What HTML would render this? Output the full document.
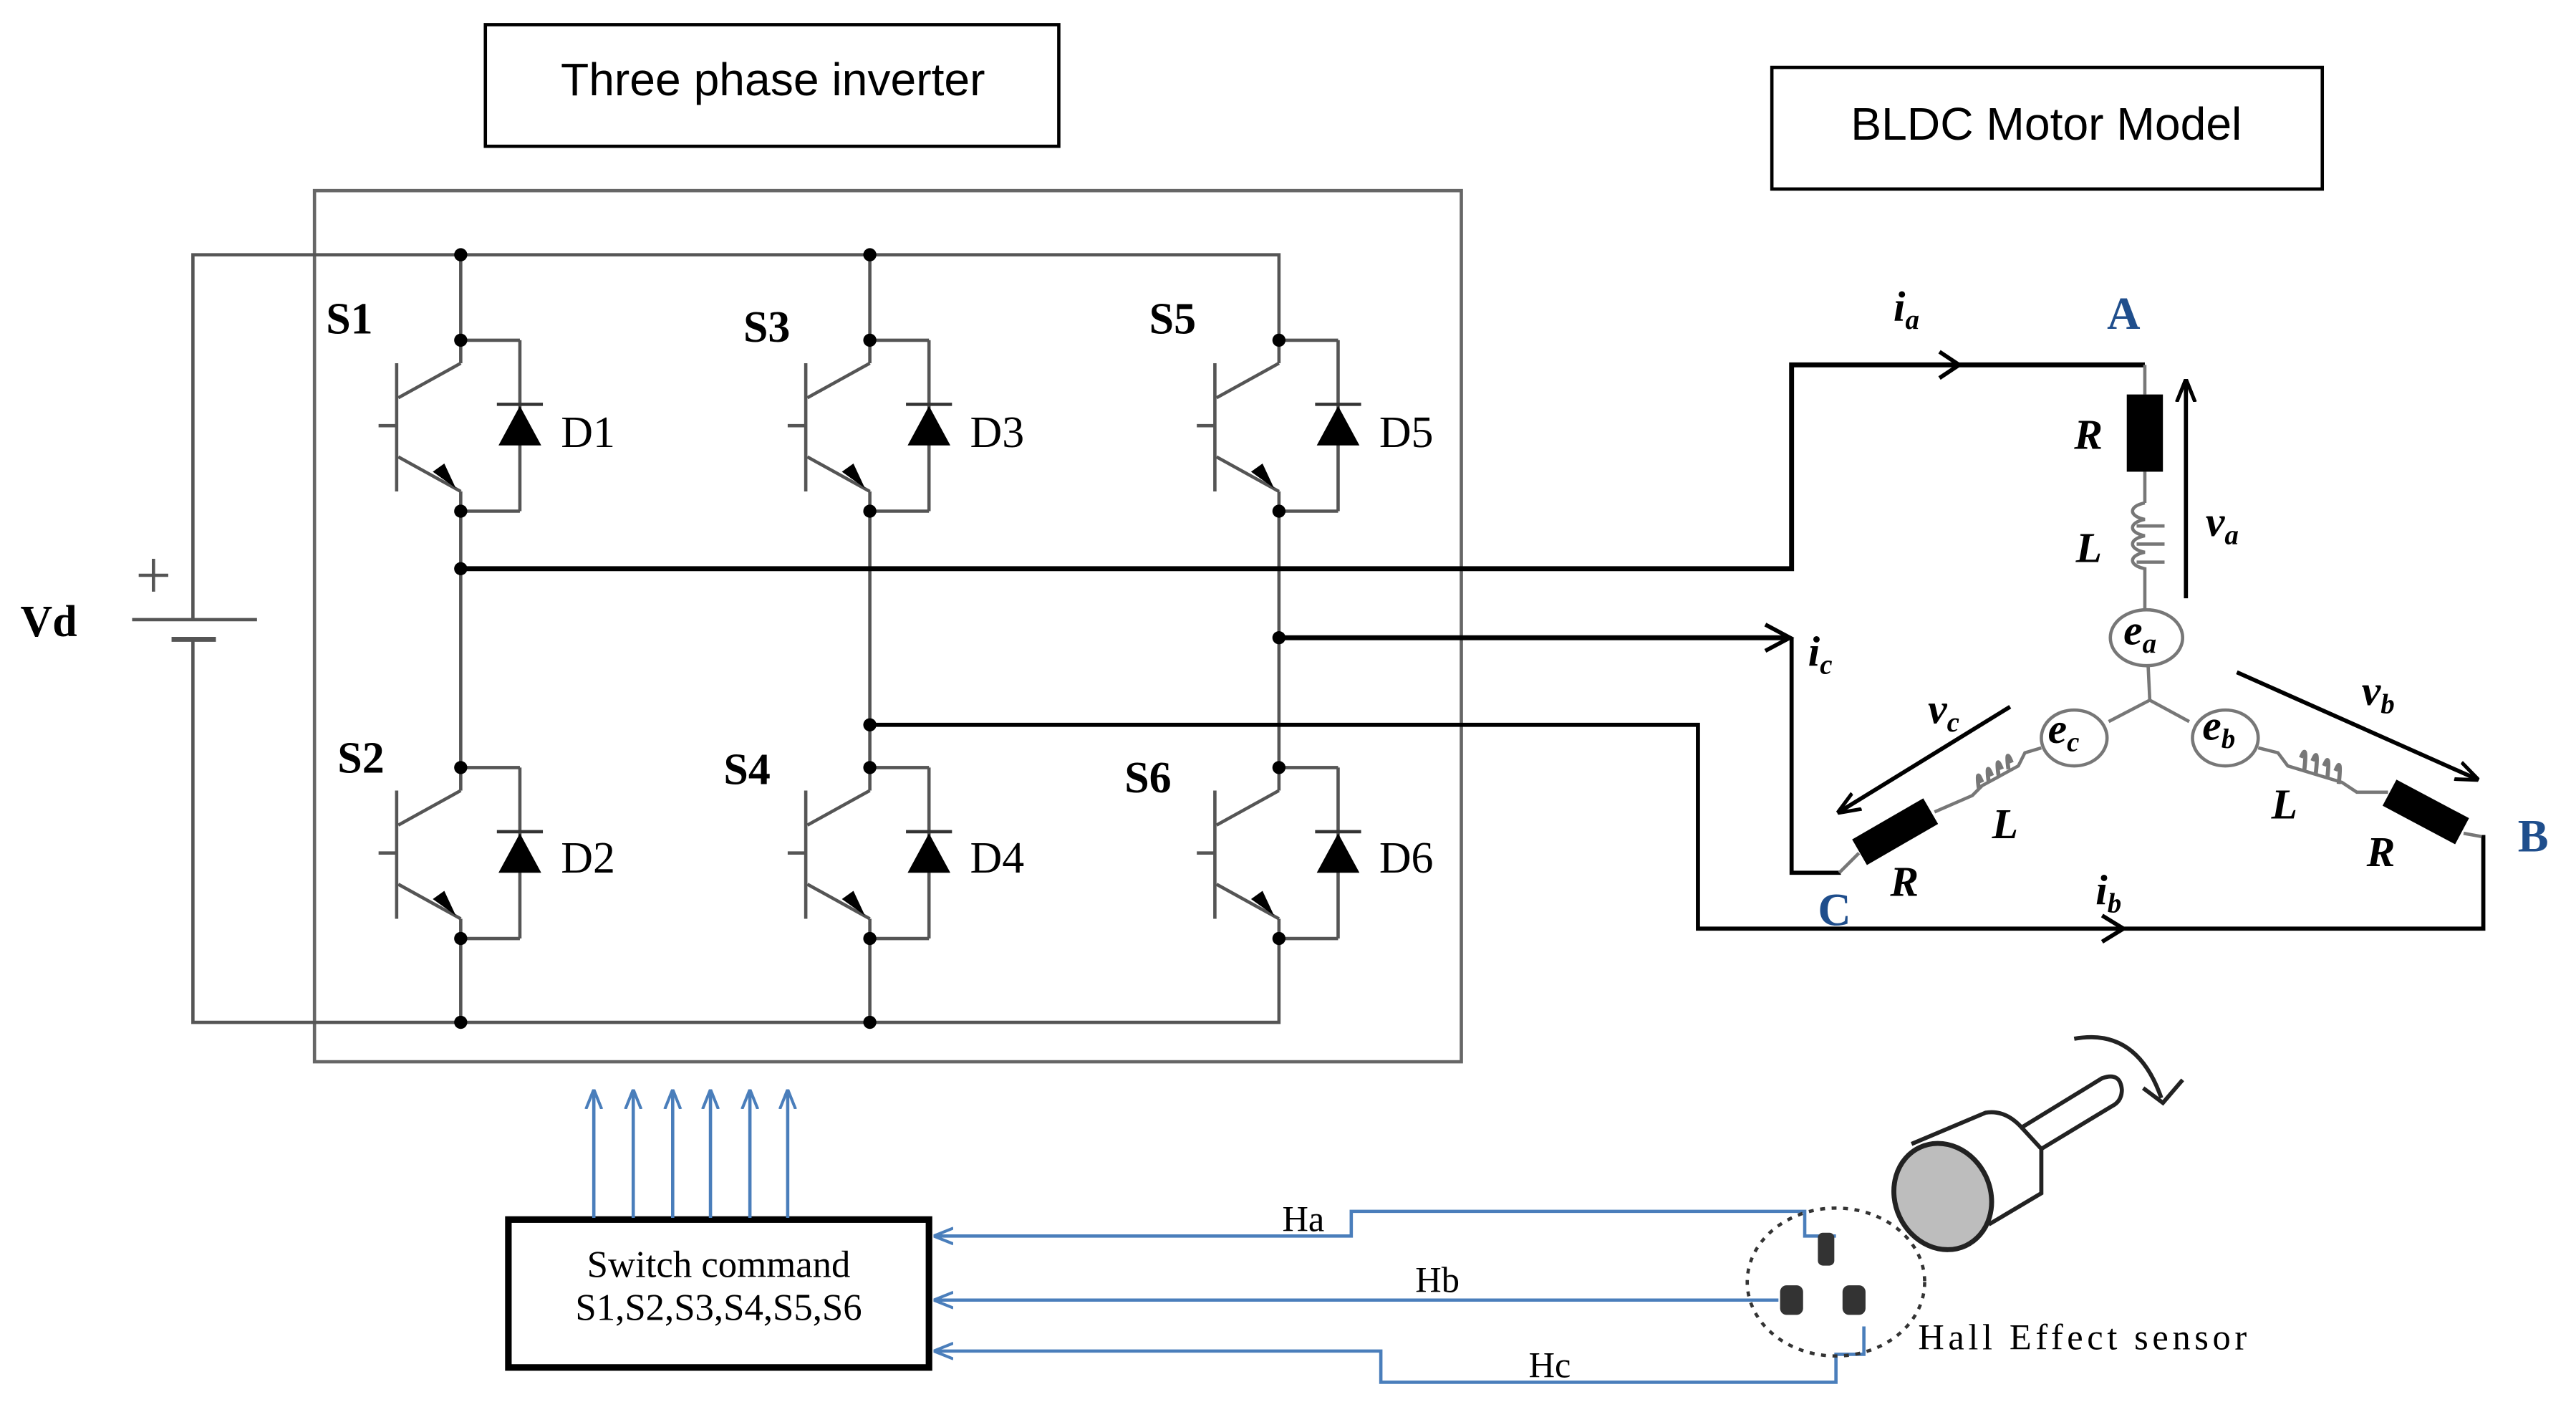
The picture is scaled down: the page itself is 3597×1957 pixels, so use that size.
<!DOCTYPE html>
<html><head><meta charset="utf-8"><style>html,body{margin:0;padding:0;background:#fff}svg{display:block}</style></head><body>
<svg width="3597" height="1957" viewBox="0 0 1567 853" xmlns="http://www.w3.org/2000/svg">
<defs>
<marker id="ab" viewBox="0 0 10 10" refX="9" refY="5" markerWidth="12" markerHeight="12" orient="auto" markerUnits="userSpaceOnUse"><path d="M0,1 L10,5 L0,9" fill="none" stroke="#4a7ebb" stroke-width="1.5"/></marker>
<marker id="ak" viewBox="0 0 10 10" refX="9" refY="5" markerWidth="14" markerHeight="14" orient="auto" markerUnits="userSpaceOnUse"><path d="M0,1 L10,5 L0,9" fill="none" stroke="#000" stroke-width="1.6"/></marker>
<g id="igbt">
<line x1="0" y1="0" x2="0" y2="14" stroke="#555" stroke-width="2"/>
<line x1="0" y1="0" x2="36" y2="0" stroke="#555" stroke-width="2"/>
<line x1="36" y1="0" x2="36" y2="104" stroke="#555" stroke-width="2"/>
<line x1="0" y1="104" x2="36" y2="104" stroke="#555" stroke-width="2"/>
<line x1="0" y1="92" x2="0" y2="104" stroke="#555" stroke-width="2"/>
<line x1="-39" y1="14" x2="-39" y2="92" stroke="#555" stroke-width="2"/>
<line x1="-50" y1="52" x2="-39" y2="52" stroke="#555" stroke-width="2"/>
<line x1="-38" y1="35" x2="0" y2="14" stroke="#555" stroke-width="2"/>
<line x1="-38" y1="71" x2="0" y2="92" stroke="#555" stroke-width="2"/>
<path d="M-3,90 L-17,80 L-10,75 Z" fill="#000"/>
<path d="M23,64 L49,64 L36,40 Z" fill="#000"/>
<line x1="22" y1="39" x2="50" y2="39" stroke="#333" stroke-width="2"/>
<circle cx="0" cy="0" r="4" fill="#000"/><circle cx="0" cy="104" r="4" fill="#000"/>
</g>
</defs>
<rect x="295" y="15" width="349" height="74" fill="none" stroke="#000" stroke-width="2"/>
<text x="470" y="58" font-family="Liberation Sans, sans-serif" font-size="28" text-anchor="middle">Three phase inverter</text>
<rect x="1078" y="41" width="335" height="74" fill="none" stroke="#000" stroke-width="2"/>
<text x="1245" y="85" font-family="Liberation Sans, sans-serif" font-size="28" text-anchor="middle">BLDC Motor Model</text>
<rect x="191" y="116" width="698" height="530" fill="none" stroke="#666" stroke-width="2"/>
<g stroke="#555" stroke-width="2" fill="none">
<path d="M117,377 V155 H778 V207"/><path d="M117,389 V622 H778 V570"/>
<line x1="280" y1="155" x2="280" y2="207"/><line x1="529" y1="155" x2="529" y2="207"/>
<line x1="280" y1="311" x2="280" y2="467"/><line x1="529" y1="311" x2="529" y2="467"/><line x1="778" y1="311" x2="778" y2="467"/>
<line x1="280" y1="570" x2="280" y2="622"/><line x1="529" y1="570" x2="529" y2="622"/>
<line x1="80" y1="377" x2="156" y2="377"/><line x1="104" y1="389" x2="131" y2="389" stroke-width="3"/>
<line x1="84" y1="350" x2="102" y2="350"/><line x1="93" y1="340" x2="93" y2="360"/>
</g>
<g fill="#000"><circle cx="280" cy="155" r="4"/><circle cx="529" cy="155" r="4"/><circle cx="280" cy="622" r="4"/><circle cx="529" cy="622" r="4"/>
<circle cx="280" cy="346" r="4"/><circle cx="778" cy="388" r="4"/><circle cx="529" cy="441" r="4"/></g>
<use href="#igbt" x="280" y="207"/><use href="#igbt" x="529" y="207"/><use href="#igbt" x="778" y="207"/>
<use href="#igbt" x="280" y="467"/><use href="#igbt" x="529" y="467"/><use href="#igbt" x="778" y="467"/>
<g font-family="Liberation Serif, serif" font-size="27" font-weight="bold">
<text x="198" y="203">S1</text><text x="452" y="208">S3</text><text x="699" y="203">S5</text>
<text x="205" y="470">S2</text><text x="440" y="477">S4</text><text x="684" y="482">S6</text>
<text x="12" y="387">Vd</text></g>
<g font-family="Liberation Serif, serif" font-size="27">
<text x="341" y="272">D1</text><text x="590" y="272">D3</text><text x="839" y="272">D5</text>
<text x="341" y="531">D2</text><text x="590" y="531">D4</text><text x="839" y="531">D6</text></g>
<g stroke="#000" stroke-width="3" fill="none">
<path d="M280,346 H1090 V222 H1305"/>
<path d="M778,388 H1088"/>
<path d="M1090,388 V531 H1120" stroke-width="2.5"/>
<path d="M529,441 H1033 V565 H1511 V508" stroke-width="2.5"/>
</g>
<path d="M1180,214 L1192,222 L1180,230" fill="none" stroke="#000" stroke-width="2.5"/>
<path d="M1074,380 L1089,388 L1074,396" fill="none" stroke="#000" stroke-width="2.5"/>
<path d="M1279,557 L1292,565 L1279,573" fill="none" stroke="#000" stroke-width="2.5"/>
<g stroke="#777" stroke-width="2" fill="none">
<line x1="1305" y1="222" x2="1305" y2="240"/><line x1="1305" y1="287" x2="1305" y2="306"/>
<path d="M1305,306 c-10,2 -10,8 0,10 c-10,2 -10,8 0,10 c-10,2 -10,8 0,10 c-10,2 -10,8 0,10 l0,11 V371"/>
<line x1="1300" y1="320" x2="1317" y2="320"/><line x1="1300" y1="331" x2="1317" y2="331"/><line x1="1300" y1="342" x2="1317" y2="342"/>
<ellipse cx="1306" cy="388" rx="22" ry="17"/>
<line x1="1307" y1="405" x2="1308" y2="426"/>
<path d="M1283,439 L1308,426 L1332,439"/>
<ellipse cx="1262" cy="449" rx="20" ry="17"/><ellipse cx="1354" cy="449" rx="20" ry="17"/>
<path d="M1242,455 L1232,458 L1228,466 L1206,478 L1200,484 L1177,494"/>
<path d="M1374,455 L1386,458 L1392,466 L1425,476 L1434,482 L1453,482"/>
<g stroke-width="2.5">
<path d="M1224,464 q-4,-10 -2,4 M1218,468 q-4,-10 -2,4 M1212,472 q-4,-10 -2,4 M1206,476 q-4,-10 -2,4"/>
<path d="M1400,461 q4,-10 2,8 M1407,463 q4,-10 2,8 M1414,466 q4,-10 2,8 M1421,469 q4,-10 2,8"/>
</g>
<line x1="1119" y1="531" x2="1131" y2="519"/><line x1="1499" y1="507" x2="1510" y2="509"/>
</g>
<rect x="1294" y="240" width="22" height="47" fill="#000"/>
<rect x="-25" y="-9" width="50" height="18" fill="#000" transform="translate(1153,506) rotate(-30)"/>
<rect x="-25" y="-9" width="50" height="18" fill="#000" transform="translate(1476,494) rotate(28)"/>
<g stroke="#000" stroke-width="2.5"><line x1="1330" y1="364" x2="1330" y2="232" marker-end="url(#ak)"/>
<line x1="1361" y1="409" x2="1507" y2="474" marker-end="url(#ak)"/>
<line x1="1223" y1="430" x2="1119" y2="494" marker-end="url(#ak)"/></g>
<g font-family="Liberation Serif, serif" font-style="italic" font-weight="bold" font-size="26">
<text x="1152" y="195">i<tspan font-size="17" dy="5">a</tspan></text>
<text x="1262" y="273">R</text><text x="1263" y="342">L</text>
<text x="1342" y="326">v<tspan font-size="17" dy="5">a</tspan></text>
<text x="1100" y="405">i<tspan font-size="17" dy="5">c</tspan></text>
<text x="1173" y="440">v<tspan font-size="17" dy="5">c</tspan></text>
<text x="1437" y="429">v<tspan font-size="17" dy="5">b</tspan></text>
<text x="1292" y="392">e<tspan font-size="17" dy="5">a</tspan></text>
<text x="1246" y="452">e<tspan font-size="17" dy="5">c</tspan></text>
<text x="1340" y="450">e<tspan font-size="17" dy="5">b</tspan></text>
<text x="1212" y="510">L</text><text x="1150" y="545">R</text>
<text x="1382" y="498">L</text><text x="1440" y="527">R</text>
<text x="1275" y="550">i<tspan font-size="17" dy="5">b</tspan></text></g>
<g font-family="Liberation Serif, serif" font-weight="bold" font-size="28" fill="#1f4e8c">
<text x="1282" y="200">A</text><text x="1532" y="518">B</text><text x="1106" y="563">C</text></g>
<rect x="309" y="742" width="256" height="90" fill="none" stroke="#000" stroke-width="4"/>
<g font-family="Liberation Serif, serif" font-size="23" text-anchor="middle">
<text x="437" y="777">Switch command</text><text x="437" y="803">S1,S2,S3,S4,S5,S6</text></g>
<g stroke="#4a7ebb" stroke-width="2" fill="none">
<line x1="361" y1="741" x2="361" y2="664" marker-end="url(#ab)"/><line x1="385" y1="741" x2="385" y2="664" marker-end="url(#ab)"/>
<line x1="409" y1="741" x2="409" y2="664" marker-end="url(#ab)"/><line x1="432" y1="741" x2="432" y2="664" marker-end="url(#ab)"/>
<line x1="456" y1="741" x2="456" y2="664" marker-end="url(#ab)"/><line x1="479" y1="741" x2="479" y2="664" marker-end="url(#ab)"/>
<path d="M1117,752 H1098 V737 H822 V752 H569" marker-end="url(#ab)"/>
<path d="M1082,791 H569" marker-end="url(#ab)"/>
<path d="M1134,807 V824 H1117 V841 H840 V822 H569" marker-end="url(#ab)"/>
</g>
<g font-family="Liberation Serif, serif" font-size="22">
<text x="780" y="749">Ha</text><text x="861" y="786">Hb</text><text x="930" y="838">Hc</text>
<text x="1167" y="821" textLength="200" lengthAdjust="spacing">Hall Effect sensor</text></g>
<ellipse cx="1117" cy="780" rx="54" ry="45" fill="none" stroke="#333" stroke-width="2" stroke-dasharray="3,4"/>
<g fill="#333"><rect x="1106" y="750" width="10" height="20" rx="3"/><rect x="1083" y="782" width="14" height="18" rx="4"/><rect x="1121" y="782" width="14" height="18" rx="4"/></g>
<g stroke="#222" stroke-width="2.5" fill="none">
<path d="M1163,696 L1208,677 Q1220,675 1230,686 L1279,656 Q1290,652 1291,663 Q1291,670 1285,673 L1242,699 L1242,726 L1210,745"/>
<line x1="1230" y1="686" x2="1242" y2="699"/>
<path d="M1262,632 Q1300,625 1315,668"/><path d="M1304,662 L1316,671 L1328,657"/>
</g>
<ellipse cx="1182" cy="728" rx="29" ry="33" transform="rotate(-25 1182 728)" fill="#bdbdbd" stroke="#222" stroke-width="3"/>
</svg>
</body></html>
